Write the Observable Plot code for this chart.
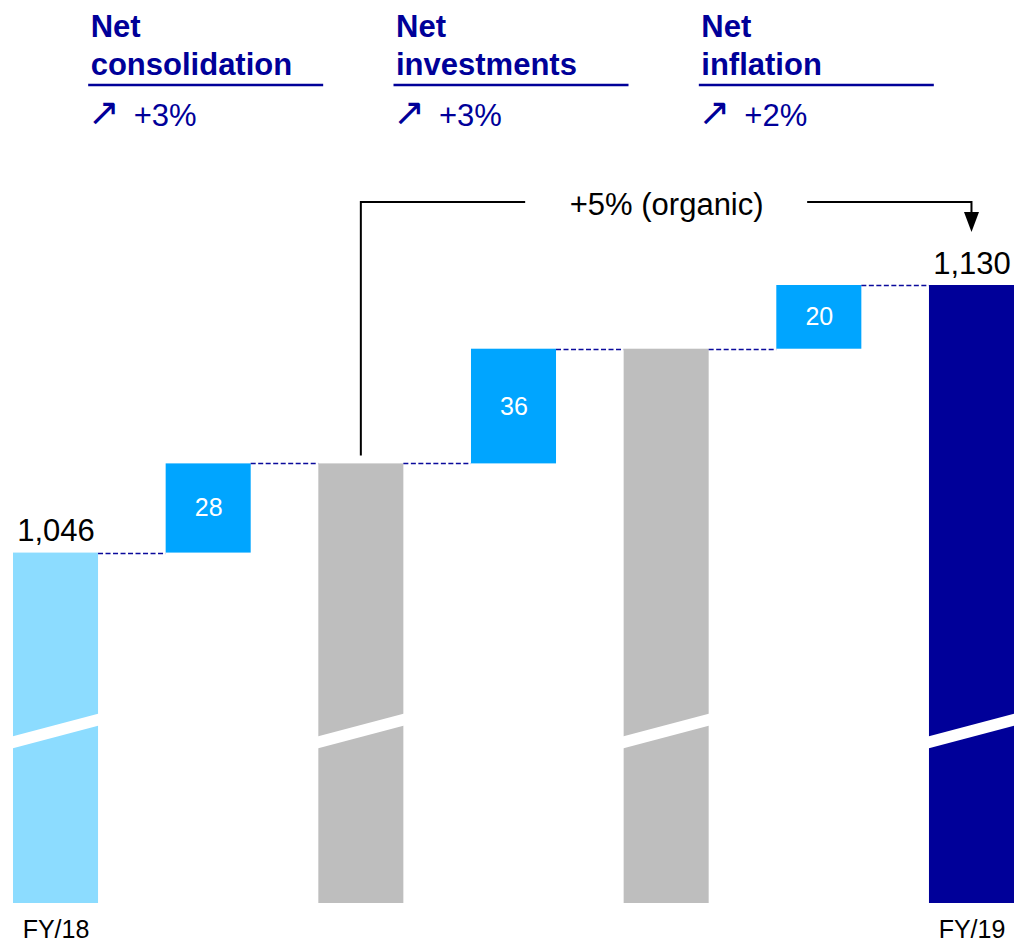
<!DOCTYPE html>
<html><head><meta charset="utf-8">
<script src="https://cdn.jsdelivr.net/npm/d3@7"></script>
<script src="https://cdn.jsdelivr.net/npm/@observablehq/plot@0.6"></script>
<style>
html,body{margin:0;padding:0;background:#fff;}
#chart svg{display:block;}
</style></head><body><div id="chart"></div>
<script>
// ---- data ----
const categories = ["FY/18", "cons", "sub1", "inv", "sub2", "infl", "FY/19"];
const tickLabels = ["FY/18", "", "", "", "", "", "FY/19"];
const kinds = ["start", "delta", "subtotal", "delta", "subtotal", "delta", "end"];
const values = [1046, 28, null, 36, null, 20, 1130];
const headerCats = ["cons", "inv", "infl"];
const headerTitles = ["Net\nconsolidation", "Net\ninvestments", "Net\ninflation"];
const headerChanges = ["+3%", "+3%", "+2%"];
const bracketLabel = "+5% (organic)";
const bracketFrom = "sub1", bracketTo = "FY/19", bracketMid = "sub2";
const axisMin = 936;      // broken-axis baseline
const axisMax = 1130;
const breakValue = 990;   // where the axis break slash is drawn

// ---- styles ----
const kindColor = {start: "#8CDCFF", delta: "#00A5FF", subtotal: "#BEBEBE", end: "#000099"};
const navy = "#000099";
const W = 1014, H = 946, MT = 285, MB = 43, ML = 13, MR = 0;

// ---- build waterfall rows ----
let run = 0;
const rows = categories.map((cat, i) => {
  const k = kinds[i], v = values[i];
  let y1, y2;
  if (k === "start") { y1 = axisMin; y2 = v; run = v; }
  else if (k === "delta") { y1 = run; y2 = run + v; run += v; }
  else if (k === "subtotal") { y1 = axisMin; y2 = run; }
  else { y1 = axisMin; y2 = v; run = v; }
  return {cat, kind: k, value: v, y1, y2, level: run, color: kindColor[k]};
});
const totals = rows.filter(d => d.kind === "start" || d.kind === "end");
const deltas = rows.filter(d => d.kind === "delta");
const headers = headerCats.map((cat, i) => ({cat, title: headerTitles[i], change: headerChanges[i]}));

function overlay(index, scales, values, dims) {
  const x = scales.x, y = scales.y;
  const bw = typeof x.bandwidth === "function" ? x.bandwidth() : x.bandwidth;
  const left = c => x(c);
  const mid = c => x(c) + bw / 2;
  const g = d3.create("svg:g");
  // dashed connectors
  for (let i = 0; i < rows.length - 1; i++) {
    const yy = Math.round(y(rows[i].level)) + 0.5;
    g.append("line")
      .attr("x1", left(rows[i].cat) + bw).attr("x2", left(rows[i + 1].cat))
      .attr("y1", yy).attr("y2", yy)
      .attr("stroke", "#0a0a9c").attr("stroke-width", 1.5)
      .attr("stroke-dasharray", "5,2.5");
  }
  // axis break slashes on total bars
  const yc = y(breakValue);
  for (const r of rows.filter(d => d.kind !== "delta")) {
    const x0 = left(r.cat) - 1, x1 = left(r.cat) + bw + 1;
    g.append("polygon")
      .attr("points", [[x0, yc + 11.5 - 6], [x1, yc - 11.5 - 6], [x1, yc - 11.5 + 6], [x0, yc + 11.5 + 6]].map(p => p.join(",")).join(" "))
      .attr("fill", "white");
  }
  // header underlines
  const uy = dims.marginTop - 200;
  for (const h of headers) {
    g.append("line")
      .attr("x1", mid(h.cat) - 120).attr("x2", mid(h.cat) + 115)
      .attr("y1", uy).attr("y2", uy)
      .attr("stroke", navy).attr("stroke-width", 2.5);
  }
  // bracket with arrow
  const fromTop = y(rows.find(d => d.cat === bracketFrom).y2);
  const yb = y(axisMax) - 83;
  const xa = mid(bracketFrom), xb = mid(bracketTo), xm = mid(bracketMid);
  g.append("path")
    .attr("d", `M${xa},${fromTop - 8}V${yb}H${xm - 141}M${xm + 141},${yb}H${xb}V${yb + 11}`)
    .attr("fill", "none").attr("stroke", "black").attr("stroke-width", 2);
  g.append("path")
    .attr("d", `M${xb - 7.5},${yb + 10}L${xb + 7.5},${yb + 10}L${xb},${yb + 30}Z`)
    .attr("fill", "black");
  return g.node();
}

const chart = Plot.plot({
  width: W, height: H,
  marginTop: MT, marginBottom: MB, marginLeft: ML, marginRight: MR,
  style: {fontFamily: "'Liberation Sans', Arial, sans-serif", background: "white", color: "black"},
  x: {domain: categories, paddingInner: 0.443, paddingOuter: 0, round: false},
  y: {domain: [axisMin, axisMax], axis: null},
  color: {type: "identity"},
  marks: [
    Plot.rectY(rows, {x: "cat", y1: "y1", y2: "y2", fill: "color"}),
    overlay,
    Plot.text(totals, {x: "cat", y: "y2", text: d => d3.format(",")(d.value), dy: -12, lineAnchor: "bottom", fontSize: 31, fill: "black"}),
    Plot.text(deltas, {x: "cat", y: d => (d.y1 + d.y2) / 2, text: d => String(d.value), lineAnchor: "middle", fontSize: 25, fill: "white"}),
    Plot.axisX({tickSize: 0, tickPadding: 17, fontSize: 25, label: null, fill: "black",
      tickFormat: d => tickLabels[categories.indexOf(d)]}),
    Plot.text(headers, {x: "cat", text: "title", frameAnchor: "top", dy: 74 - MT, dx: -118, textAnchor: "start",
      lineAnchor: "bottom", lineHeight: 1.22, fontSize: 31, fontWeight: "bold", fill: navy}),
    Plot.text(headers, {x: "cat", text: () => "\u2197", frameAnchor: "top", dy: 124 - MT, dx: -121, textAnchor: "start",
      lineAnchor: "bottom", fontSize: 38, fontFamily: "DejaVu Sans", fill: navy}),
    Plot.text(headers, {x: "cat", text: "change", frameAnchor: "top", dy: 125 - MT, dx: -75, textAnchor: "start",
      lineAnchor: "bottom", fontSize: 31, fill: navy}),
    Plot.text([bracketLabel], {x: () => bracketMid, text: d => d, frameAnchor: "top", dy: 214 - MT,
      lineAnchor: "bottom", fontSize: 31, fill: "black"})
  ]
});
document.getElementById("chart").appendChild(chart);
</script></body></html>
